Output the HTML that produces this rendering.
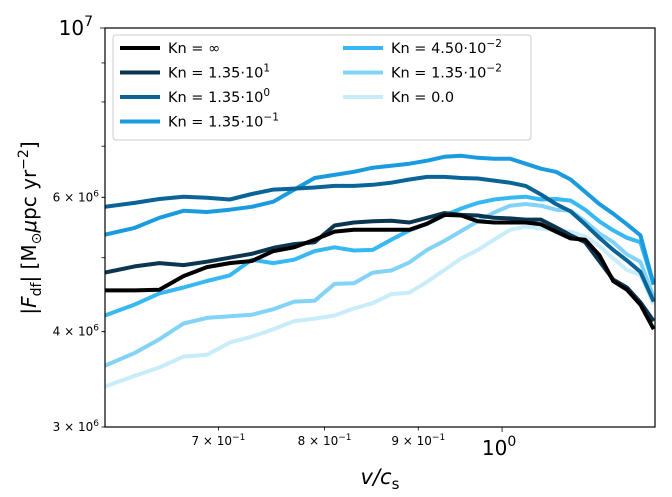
<!DOCTYPE html>
<html><head><meta charset="utf-8"><style>
body{margin:0;background:#fff;}
svg{display:block;font-family:"DejaVu Sans","Liberation Sans",sans-serif;}
</style></head><body>
<svg id="chart" width="672" height="497" viewBox="0 0 672 497">
<g id="lines"></g>
<rect x="105" y="28" width="550" height="399" fill="none" stroke="#000" stroke-width="1.2"/>
<g id="ticks"></g>
<text x="380" y="484" font-size="21" text-anchor="middle" font-style="italic">v/c<tspan font-size="15" dy="5" font-style="normal">s</tspan></text>
<text transform="translate(36,228) rotate(-90)" font-size="20" text-anchor="middle">|<tspan font-style="italic">F</tspan><tspan font-size="14" dy="5">df</tspan><tspan dy="-5">| [M</tspan><tspan font-size="14" dy="5">⊙</tspan><tspan dy="-5" font-style="italic">μ</tspan>pc yr<tspan font-size="14" dy="-8">−2</tspan><tspan dy="8">]</tspan></text>
<g id="legend">
<rect x="113" y="35" width="418" height="105" rx="3" fill="#fff" fill-opacity="0.85" stroke="#ccc" stroke-width="1"/>
</g>
</svg>
<script>
const xs=[0.607,0.63,0.65,0.67,0.69,0.71,0.73,0.75,0.77,0.79,0.81,0.83,0.85,0.87,0.89,0.91,0.93,0.95,0.97,0.99,1.01,1.03,1.05,1.07,1.09,1.11,1.13,1.15,1.17,1.19,1.21];
const knInf=[4.53,4.53,4.54,4.73,4.86,4.92,4.95,5.10,5.16,5.28,5.41,5.44,5.44,5.44,5.44,5.54,5.69,5.68,5.58,5.56,5.56,5.56,5.53,5.41,5.30,5.28,5.04,4.66,4.54,4.34,4.03];
const kn1e1=[4.78,4.87,4.92,4.89,4.94,5.00,5.06,5.15,5.21,5.24,5.51,5.56,5.58,5.59,5.56,5.64,5.72,5.69,5.68,5.64,5.63,5.61,5.61,5.48,5.35,5.24,4.95,4.68,4.57,4.37,4.13];
const kn1e0=[5.83,5.90,5.97,6.01,5.99,5.96,6.06,6.14,6.16,6.18,6.21,6.21,6.23,6.27,6.33,6.38,6.38,6.36,6.35,6.31,6.27,6.21,6.05,5.88,5.75,5.53,5.31,5.12,4.96,4.79,4.38];
const kn1em1=[5.36,5.47,5.64,5.76,5.74,5.78,5.83,5.92,6.14,6.36,6.42,6.48,6.56,6.60,6.64,6.70,6.78,6.80,6.76,6.74,6.74,6.64,6.54,6.48,6.33,6.10,5.88,5.71,5.53,5.35,4.61];
const kn45em2=[4.20,4.34,4.49,4.57,4.66,4.74,4.97,4.92,4.97,5.10,5.16,5.11,5.12,5.28,5.43,5.54,5.68,5.80,5.90,5.96,5.99,6.01,5.96,5.97,5.94,5.78,5.58,5.43,5.31,5.24,4.61];
const kn1em2=[3.61,3.75,3.91,4.10,4.17,4.19,4.21,4.28,4.38,4.39,4.62,4.63,4.78,4.81,4.93,5.12,5.26,5.42,5.58,5.73,5.85,5.88,5.85,5.78,5.76,5.58,5.38,5.24,5.05,4.94,4.44];
const kn0=[3.39,3.50,3.59,3.71,3.73,3.87,3.94,4.03,4.13,4.16,4.20,4.29,4.36,4.48,4.50,4.65,4.82,4.99,5.12,5.28,5.44,5.49,5.46,5.43,5.41,5.33,5.18,4.99,4.82,4.75,4.34];
const seriesBase=["∞","1.35·10","1.35·10","1.35·10","4.50·10","1.35·10","0.0"];
const seriesExp=["","1","0","−1","−2","−2",""];
const xTickVals=[0.7,0.8,0.9];
const xTickLabels=["7","8","9"];
const yMinorVals=[4,5,6,7,8,9];
const yLabelVals=[3,4,6];

const NS="http://www.w3.org/2000/svg";
const X0=105,X1=655,Y0=28,Y1=427;
const xmin=0.607,xmax=1.212,ymin=3,ymax=10;
function sx(v){return X0+(X1-X0)*Math.log(v/xmin)/Math.log(xmax/xmin);}
function sy(v){return Y1-(Y1-Y0)*Math.log(v/ymin)/Math.log(ymax/ymin);}
function mk(tag,attrs,parent){const e=document.createElementNS(NS,tag);for(const k in attrs)e.setAttribute(k,attrs[k]);parent.appendChild(e);return e;}
const colors=["#000000","#0b3651","#0a6498","#1a9be0","#38b8f2","#82d3f7","#c9ecfb"];
const data=[knInf,kn1e1,kn1e0,kn1em1,kn45em2,kn1em2,kn0];
const lines=document.getElementById('lines');
const order=[6,5,4,3,2,1,0];
order.forEach(i=>{
  const d=data[i].map((v,j)=>(j?'L':'M')+sx(xs[j]).toFixed(1)+' '+sy(v).toFixed(1)).join(' ');
  const p=mk('path',{d:d,fill:'none',stroke:colors[i],'stroke-width':4,'stroke-linejoin':'round'},lines);
  
  
});
const cp=mk('clipPath',{id:'cp'},document.getElementById('chart'));
mk('rect',{x:X0,y:Y0,width:X1-X0,height:Y1-Y0},cp);
lines.setAttribute('clip-path','url(#cp)');
const tk=document.getElementById('ticks');
xTickVals.forEach((v,i)=>{
  const x=sx(v);
  mk('line',{x1:x,x2:x,y1:Y1,y2:Y1+3.5,stroke:'#000','stroke-width':0.8},tk);
  const t=mk('text',{x:x,y:Y1+18,'font-size':12,'text-anchor':'middle'},tk);
  
  
  t.innerHTML=xTickLabels[i]+' × 10<tspan font-size="9" dy="-5">−1</tspan>';
});
{const x=sx(1.0);
mk('line',{x1:x,x2:x,y1:Y1,y2:Y1+5,stroke:'#000','stroke-width':0.8},tk);
const t=mk('text',{x:x-3,y:Y1+28,'font-size':20,'text-anchor':'middle'},tk);


t.innerHTML='10<tspan font-size="14" dy="-9">0</tspan>';}
yMinorVals.forEach(v=>{const y=sy(v);mk('line',{x1:X0-3.5,x2:X0,y1:y,y2:y,stroke:'#000','stroke-width':0.8},tk);});
yLabelVals.forEach(v=>{
  const y=sy(v);
  mk('line',{x1:X0-3.5,x2:X0,y1:y,y2:y,stroke:'#000','stroke-width':0.8},tk);
  const t=mk('text',{x:X0-6,y:y+4,'font-size':12,'text-anchor':'end'},tk);
  
  
  t.innerHTML=v+' × 10<tspan font-size="9" dy="-5">6</tspan>';
});
{const y=sy(10);
mk('line',{x1:X0-5,x2:X0,y1:y,y2:y,stroke:'#000','stroke-width':0.8},tk);
const t=mk('text',{x:X0-12,y:y+7,'font-size':20,'text-anchor':'end'},tk);


t.innerHTML='10<tspan font-size="14" dy="-9">7</tspan>';}
const lg=document.getElementById('legend');
seriesBase.forEach((n,i)=>{
  const col=i<4?0:1, row=i<4?i:i-4;
  const lx=col?343:120, ly=48+row*24.5;
  const g=mk('g',{},lg);
  
  
  mk('line',{x1:lx,x2:lx+40,y1:ly,y2:ly,stroke:colors[i],'stroke-width':4},g);
  const t=mk('text',{x:lx+48,y:ly+5,'font-size':14.5},g);
  t.innerHTML='Kn = '+n+(seriesExp[i]?'<tspan font-size="10.5" dy="-6">'+seriesExp[i]+'</tspan>':'');
});
</script>
</body></html>
